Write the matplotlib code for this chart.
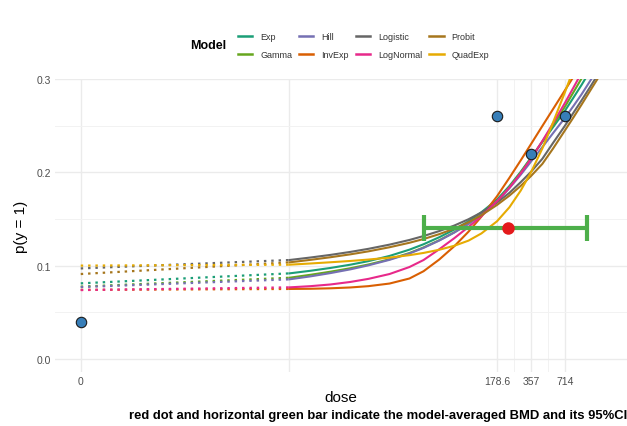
import numpy as np
import matplotlib.pyplot as plt
from matplotlib.ticker import NullFormatter
from matplotlib.lines import Line2D

plt.rcParams['font.family'] = ['Liberation Sans', 'DejaVu Sans']

models = ['Exp', 'Gamma', 'Hill', 'InvExp', 'Logistic', 'LogNormal', 'Probit', 'QuadExp']
colors = ['#1B9E77', '#66A61E', '#7570B3', '#D95F02', '#666666', '#E7298A', '#A6761D', '#E6AB02']

# observed proportions
obs_dose = [0, 178.6, 357, 714]
obs_prob = [0.04, 0.26, 0.22, 0.26]

# dose 0 cannot sit on a log axis, so it is drawn at this spot
zero_pos = 0.037

# fitted curves (solid part) on a dose grid
fit_dose = [2.6, 4, 6, 9, 13, 20, 30, 40, 55, 75, 100, 130, 178.6,
            230, 290, 357, 450, 560, 714, 850, 1000, 1200, 1400]
fit_prob = {
    'Exp':       [.0917, .0945, .0975, .1010, .1048, .1104, .1171, .1229, .1304, .1387, .1476, .1572,
                  .1707, .1853, .2006, .2157, .2325, .2484, .2660, .2802, .2936, .3094, .3230],
    'Gamma':     [.0870, .0902, .0935, .0972, .1012, .1068, .1135, .1195, .1272, .1358, .1450, .1550,
                  .1690, .1842, .1998, .2152, .2330, .2505, .2705, .2860, .3005, .3180, .3330],
    'Hill':      [.0853, .0885, .0920, .0960, .1003, .1062, .1130, .1190, .1268, .1355, .1447, .1547,
                  .1685, .1830, .1975, .2115, .2270, .2420, .2585, .2712, .2835, .2985, .3110],
    'InvExp':    [.0750, .0752, .0757, .0766, .0780, .0808, .0862, .0940, .1065, .1209, .1364, .1525,
                  .1743, .1941, .2129, .2302, .2496, .2678, .2880, .3026, .3160, .3320, .3450],
    'Logistic':  [.1060, .1087, .1115, .1147, .1180, .1225, .1275, .1317, .1370, .1430, .1497, .1570,
                  .1675, .1780, .1895, .2005, .2145, .2315, .2500, .2640, .2770, .2920, .3050],
    'LogNormal': [.0767, .0780, .0798, .0825, .0858, .0910, .0985, .1060, .1175, .1295, .1415, .1530,
                  .1690, .1835, .1990, .2145, .2335, .2525, .2745, .2910, .3065, .3250, .3400],
    'Probit':    [.1035, .1062, .1090, .1121, .1153, .1197, .1245, .1285, .1337, .1397, .1465, .1540,
                  .1650, .1750, .1855, .1960, .2090, .2255, .2450, .2590, .2725, .2880, .3010],
    'QuadExp':   [.1010, .1023, .1036, .1050, .1065, .1086, .1112, .1136, .1170, .1213, .1268, .1345,
                  .1475, .1625, .1805, .2000, .2255, .2535, .2860, .3105, .3330, .3580, .3790],
}
# background response at dose 0 (start of the dotted part)
prob_at_zero = [.081, .0775, .077, .074, .097, .0738, .091, .100]

# model-averaged BMD with its 95% CI
bmd, bmdl, bmdu, bmd_prob = 223, 40.3, 1116, 0.14

W, H = 627, 427
fig = plt.figure(figsize=(W / 100, H / 100), dpi=100)
ax = fig.add_axes([55 / W, (H - 373) / H, (627 - 55) / W, (373 - 80) / H])
ax.set_xscale('log')

for m, c, p0 in zip(models, colors, prob_at_zero):
    ax.plot([zero_pos, fit_dose[0]], [p0, fit_prob[m][0]], color=c, lw=1.6,
            linestyle=(0, (1.1, 2.2)), dash_capstyle='butt', zorder=3)
    ax.plot(fit_dose, fit_prob[m], color=c, lw=1.5, zorder=3)

# BMD interval and point estimate
ax.plot([bmdl, bmdu], [bmd_prob, bmd_prob], color='#4DAF4A', lw=3, zorder=4,
        solid_capstyle='butt')
for xe in (bmdl, bmdu):
    ax.plot([xe, xe], [bmd_prob - 0.014, bmd_prob + 0.014], color='#4DAF4A', lw=3,
            zorder=4, solid_capstyle='butt')
ax.plot([bmd], [bmd_prob], 'o', color='#E41A1C', ms=9, mec='none', zorder=5)

obs_x = [zero_pos if d == 0 else d for d in obs_dose]
ax.plot(obs_x, obs_prob, 'o', color='#377EB8', mec='#1a1a1a', mew=0.8, ms=7.5, zorder=6)

ax.set_xlim(0.0219, 2526)
ax.set_ylim(-0.014, 0.3)

ax.set_xticks([zero_pos, 2.6, 178.6, 357, 714])
ax.set_xticklabels(['0', '', '178.6', '357', '714'])
ax.set_xticks([252.5, 505], minor=True)
ax.xaxis.set_minor_formatter(NullFormatter())
ax.set_yticks([0, 0.1, 0.2, 0.3])
ax.set_yticklabels(['0.0', '0.1', '0.2', '0.3'])
ax.set_yticks([0.05, 0.15, 0.25], minor=True)

ax.grid(True, which='major', color='#ebebeb', lw=1.0, zorder=0)
ax.grid(True, which='minor', color='#f2f2f2', lw=0.7, zorder=0)
ax.set_axisbelow(True)
for s in ax.spines.values():
    s.set_visible(False)
ax.tick_params(which='both', length=0, labelsize=7.5, labelcolor='#4d4d4d', pad=3)

ax.set_xlabel('dose', fontsize=11, labelpad=3)
ax.set_ylabel('p(y = 1)', fontsize=11, labelpad=6)

# legend across the top
handles = [Line2D([], [], color=c, lw=1.8) for c in colors]
fig.legend(handles, models, loc='center left', bbox_to_anchor=(233 / W, (H - 46.5) / H),
           ncol=4, frameon=False, fontsize=6.5, handlelength=1.6, handletextpad=0.9,
           columnspacing=0.75, labelspacing=0.95, borderpad=0, labelcolor='#333333')
fig.text(190 / W, (H - 46) / H, 'Model', fontsize=9, fontweight='bold', va='center')

fig.text(627 / W, (H - 416) / H,
         'red dot and horizontal green bar indicate the model-averaged BMD and its 95%CI',
         fontsize=9.4, fontweight='bold', ha='right', va='center')

fig.savefig('out.png', dpi=100)
